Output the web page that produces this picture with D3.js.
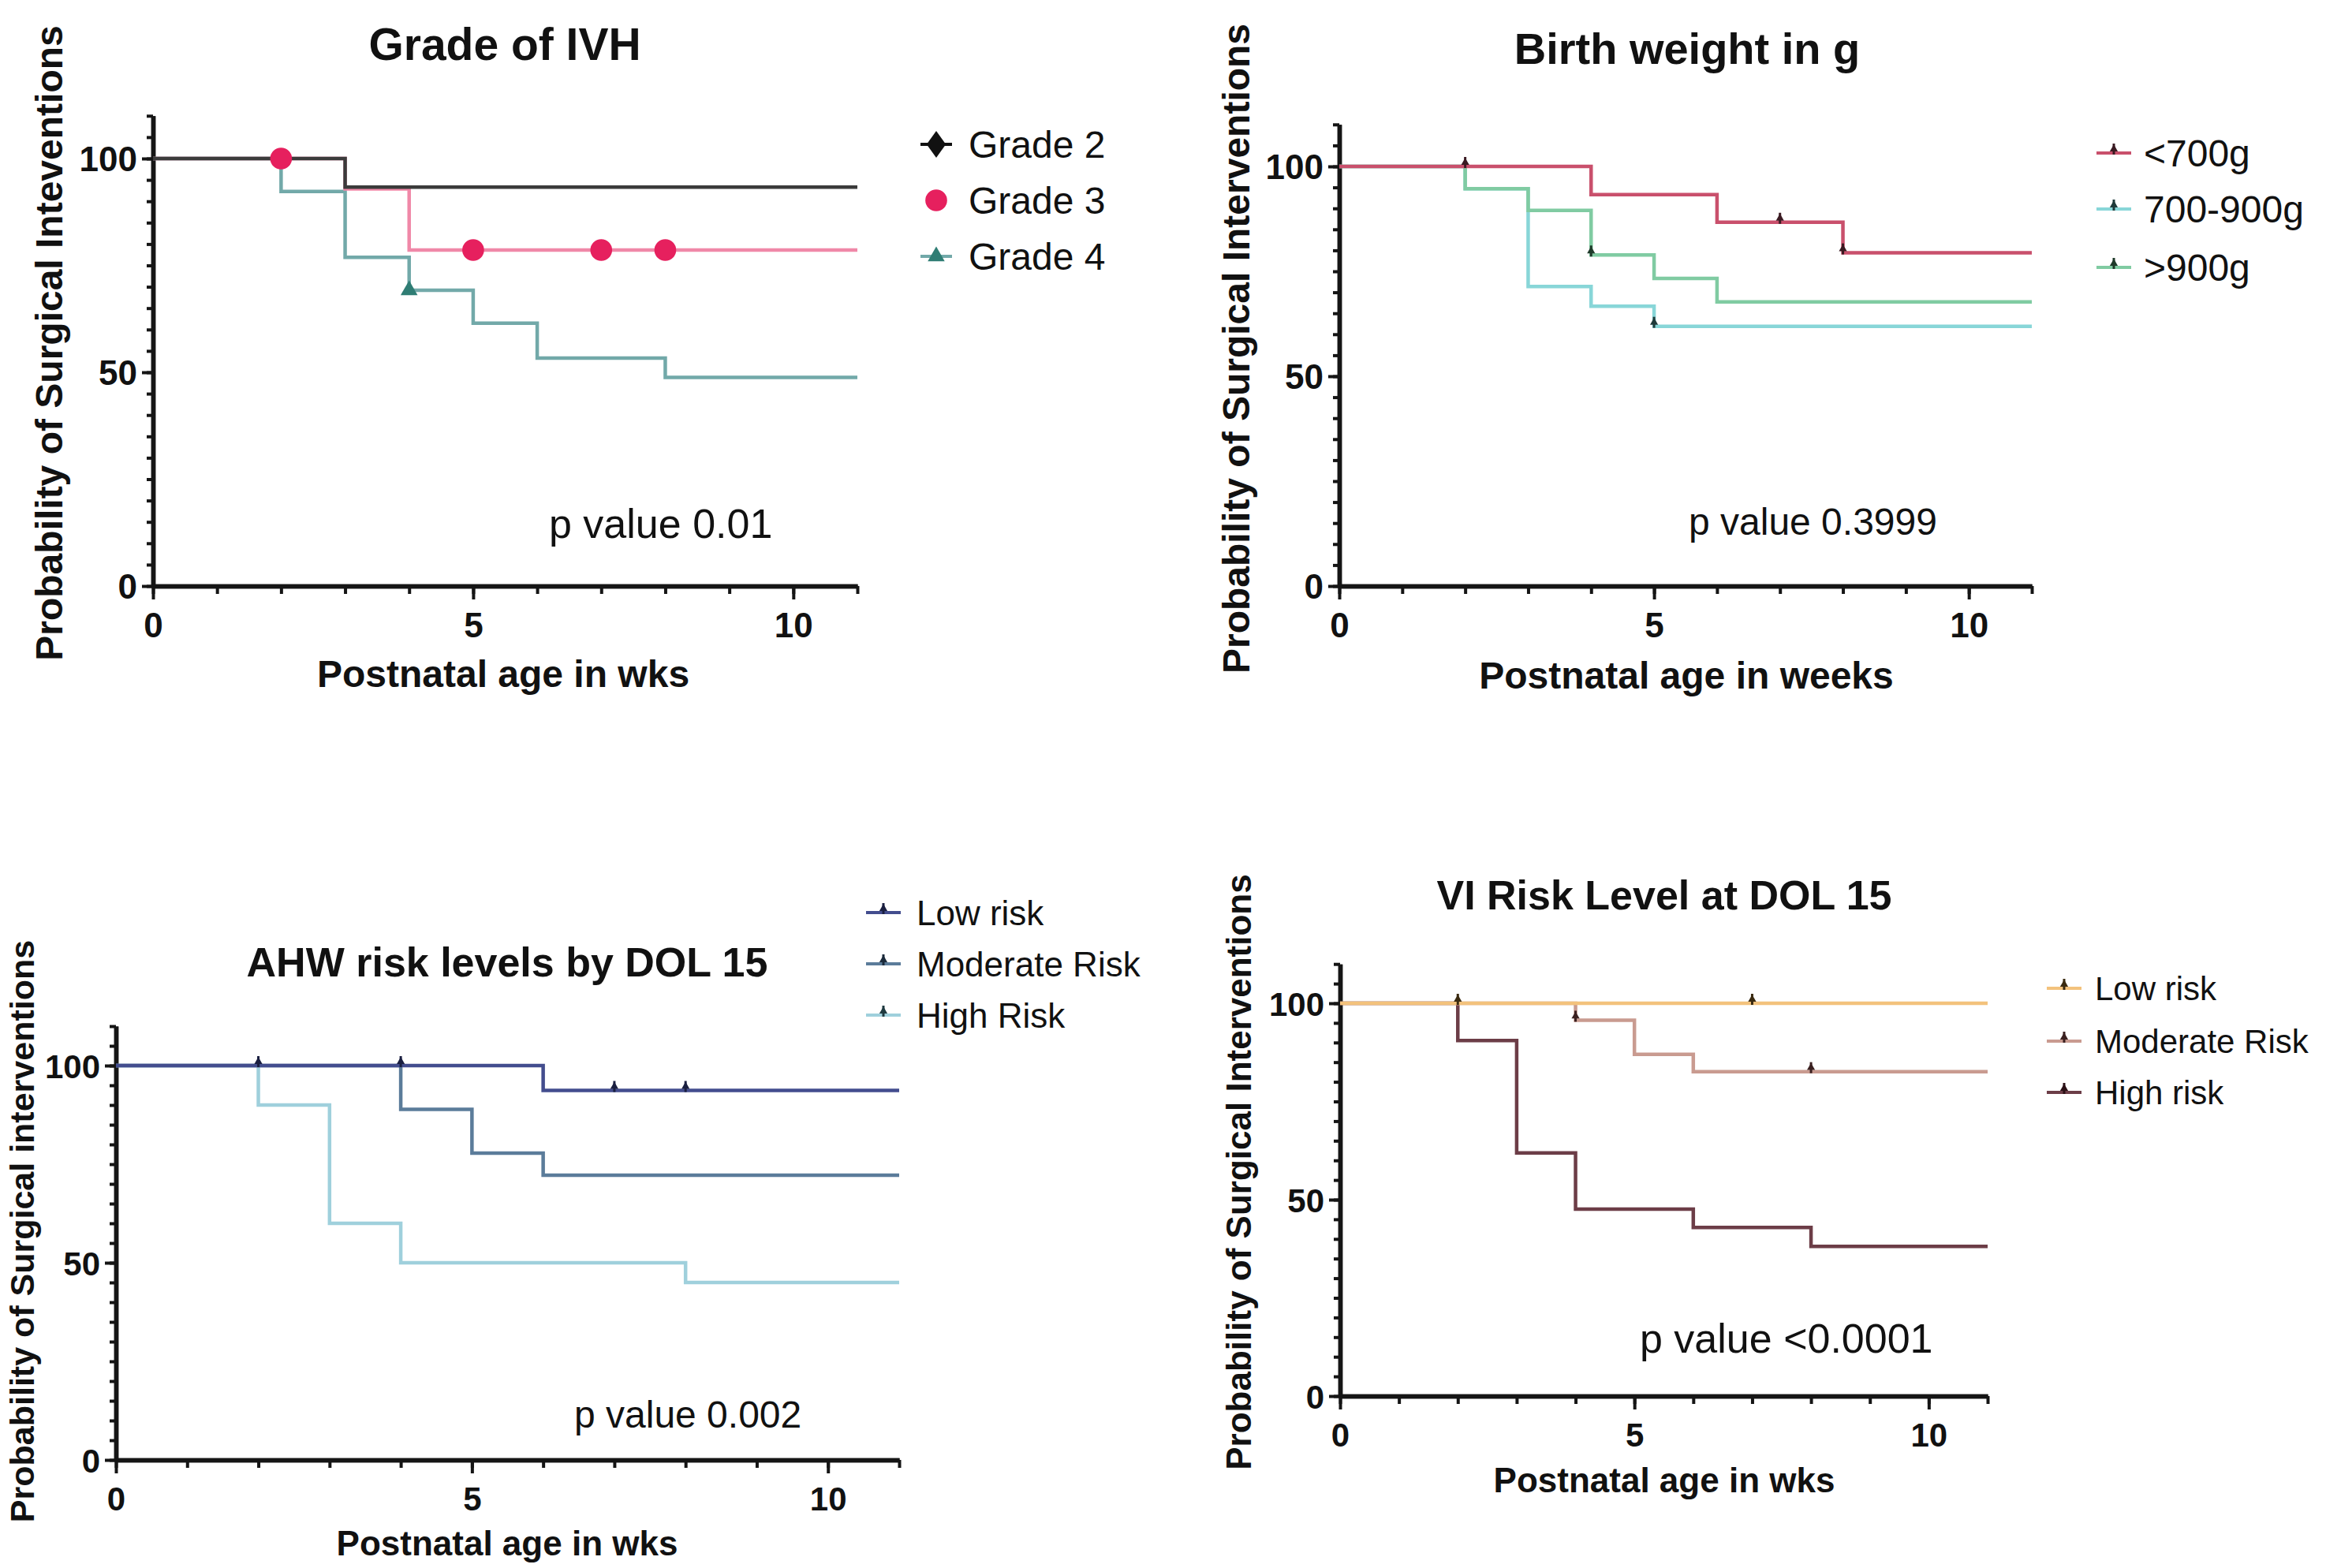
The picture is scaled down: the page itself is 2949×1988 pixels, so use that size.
<!DOCTYPE html>
<html><head><meta charset="utf-8">
<script src="https://cdn.jsdelivr.net/npm/d3@7"></script>
<style>
body{margin:0;background:#fff}
svg{display:block}
text{font-family:"Liberation Sans",Arial,Helvetica,sans-serif;fill:#111}
</style>
</head><body>
<svg id="chart" width="2949" height="1988"></svg>
<script>
// ---------------- DATA ----------------
const xTickValues = [0, 5, 10];
const yTickValues = [0, 50, 100];
const xMinorStep = 1, yMinorStep = 5;
const xMax = 11, yMax = 110;

// Panel 1: Grade of IVH
const ivhTitle = "Grade of IVH";
const ivhLabels = ["Grade 2", "Grade 3", "Grade 4"];
const grade2Times = [0, 3],                   grade2Surv = [100, 93.3],                        grade2Censor = [];
const grade3Times = [0, 3, 4],                grade3Surv = [100, 92.9, 78.6],                  grade3Censor = [2, 5, 7, 8];
const grade4Times = [0, 2, 3, 4, 5, 6, 8],    grade4Surv = [100, 92.3, 76.9, 69.2, 61.5, 53.3, 48.8], grade4Censor = [4];
const ivhP = "p value 0.01";
const ivhXTitle = "Postnatal age in wks";
const ivhYTitle = "Probability of Surgical Inteventions";

// Panel 2: Birth weight
const bwTitle = "Birth weight in g";
const bwLabels = ["<700g", "700-900g", ">900g"];
const bwLowTimes = [0, 4, 6, 8],         bwLowSurv = [100, 93.3, 86.7, 79.4],           bwLowCensor = [2, 7, 8];
const bwMidTimes = [0, 2, 3, 4, 5],      bwMidSurv = [100, 94.7, 71.4, 66.7, 61.9],     bwMidCensor = [5];
const bwHighTimes = [0, 2, 3, 4, 5, 6],  bwHighSurv = [100, 94.7, 89.5, 78.9, 73.3, 67.7], bwHighCensor = [4];
const bwP = "p value 0.3999";
const bwXTitle = "Postnatal age in weeks";
const bwYTitle = "Probability of Surgical Interventions";

// Panel 3: AHW risk levels
const ahwTitle = "AHW risk levels by DOL 15";
const ahwLabels = ["Low risk", "Moderate Risk", "High Risk"];
const ahwLowTimes = [0, 6],            ahwLowSurv = [100, 93.7],              ahwLowCensor = [2, 4, 7, 8];
const ahwModTimes = [0, 4, 5, 6],      ahwModSurv = [100, 88.9, 77.8, 72.2],  ahwModCensor = [];
const ahwHighTimes = [0, 2, 3, 4, 8],  ahwHighSurv = [100, 90, 60, 50, 45],   ahwHighCensor = [];
const ahwP = "p value 0.002";
const ahwXTitle = "Postnatal age in wks";
const ahwYTitle = "Probability of Surgical interventions";

// Panel 4: VI risk level
const viTitle = "VI Risk Level at DOL 15";
const viLabels = ["Low risk", "Moderate Risk", "High risk"];
const viLowTimes = [0],                    viLowSurv = [100],                               viLowCensor = [2, 7];
const viModTimes = [0, 4, 5, 6],           viModSurv = [100, 95.7, 87.0, 82.6],             viModCensor = [4, 8];
const viHighTimes = [0, 2, 3, 4, 6, 8],    viHighSurv = [100, 90.5, 61.9, 47.6, 42.9, 38.1], viHighCensor = [];
const viP = "p value <0.0001";
const viXTitle = "Postnatal age in wks";
const viYTitle = "Probability of Surgical Interventions";

// ---------------- LAYOUT ----------------
const panels = [
  {
    title: ivhTitle, pText: ivhP, xTitle: ivhXTitle, yTitle: ivhYTitle,
    left: 194, right: 1087, bottom: 743, v100: 201,
    titleX: 640, titleY: 76, titleSize: 57,
    xTitleX: 638, xTitleY: 871, xTitleSize: 48,
    yTitleX: 62, yTitleY: 435, yTitleSize: 48,
    pX: 696, pY: 682, pSize: 52,
    tickSize: 44,
    legX: 1187, legTextX: 1228, legY: [183, 254, 325], legSize: 48, legendKind: "ivh",
    series: [
      {label: ivhLabels[2], times: grade4Times, surv: grade4Surv, censor: grade4Censor, color: "#72a9a9", mark: "#2f7d74", sym: "tri"},
      {label: ivhLabels[1], times: grade3Times, surv: grade3Surv, censor: grade3Censor, color: "#f088a8", mark: "#e6205e", sym: "oct"},
      {label: ivhLabels[0], times: grade2Times, surv: grade2Surv, censor: grade2Censor, color: "#3b3b3b", mark: "#111", sym: "dia"}
    ],
    legendOrder: [2, 1, 0]
  },
  {
    title: bwTitle, pText: bwP, xTitle: bwXTitle, yTitle: bwYTitle,
    left: 1698, right: 2576, bottom: 743, v100: 211,
    titleX: 2139, titleY: 81, titleSize: 56,
    xTitleX: 2138, xTitleY: 873, xTitleSize: 48,
    yTitleX: 1567, yTitleY: 442, yTitleSize: 48,
    pX: 2141, pY: 678, pSize: 48,
    tickSize: 44,
    legX: 2680, legTextX: 2718, legY: [194, 265, 339], legSize: 48, legendKind: "tick",
    series: [
      {label: bwLabels[1], times: bwMidTimes, surv: bwMidSurv, censor: bwMidCensor, color: "#88d6d8", mark: "#1f3a3a"},
      {label: bwLabels[2], times: bwHighTimes, surv: bwHighSurv, censor: bwHighCensor, color: "#80cba2", mark: "#1f3a2a"},
      {label: bwLabels[0], times: bwLowTimes, surv: bwLowSurv, censor: bwLowCensor, color: "#c9506c", mark: "#3a1a22"}
    ],
    legendOrder: [2, 0, 1]
  },
  {
    title: ahwTitle, pText: ahwP, xTitle: ahwXTitle, yTitle: ahwYTitle,
    left: 147, right: 1140, bottom: 1851, v100: 1351,
    titleX: 643, titleY: 1238, titleSize: 52,
    xTitleX: 643, xTitleY: 1972, xTitleSize: 44,
    yTitleX: 28, yTitleY: 1561, yTitleSize: 43,
    pX: 728, pY: 1810, pSize: 48,
    tickSize: 42,
    legX: 1120, legTextX: 1162, legY: [1157, 1222, 1287], legSize: 44, legendKind: "tick",
    series: [
      {label: ahwLabels[2], times: ahwHighTimes, surv: ahwHighSurv, censor: ahwHighCensor, color: "#9fd0dc", mark: "#1f3a40"},
      {label: ahwLabels[1], times: ahwModTimes, surv: ahwModSurv, censor: ahwModCensor, color: "#5b7c9a", mark: "#1a2a3a"},
      {label: ahwLabels[0], times: ahwLowTimes, surv: ahwLowSurv, censor: ahwLowCensor, color: "#434d8e", mark: "#1a1f40"}
    ],
    legendOrder: [2, 1, 0]
  },
  {
    title: viTitle, pText: viP, xTitle: viXTitle, yTitle: viYTitle,
    left: 1699, right: 2520, bottom: 1770, v100: 1272,
    titleX: 2110, titleY: 1153, titleSize: 52,
    xTitleX: 2110, xTitleY: 1892, xTitleSize: 44,
    yTitleX: 1571, yTitleY: 1486, yTitleSize: 44,
    pX: 2079, pY: 1715, pSize: 52,
    tickSize: 42,
    legX: 2617, legTextX: 2656, legY: [1253, 1320, 1385], legSize: 42, legendKind: "tick",
    series: [
      {label: viLabels[2], times: viHighTimes, surv: viHighSurv, censor: viHighCensor, color: "#6c3d47", mark: "#2a1015"},
      {label: viLabels[1], times: viModTimes, surv: viModSurv, censor: viModCensor, color: "#c99b90", mark: "#3a2020"},
      {label: viLabels[0], times: viLowTimes, surv: viLowSurv, censor: viLowCensor, color: "#f3c27c", mark: "#3a2a10"}
    ],
    legendOrder: [2, 1, 0]
  }
];

// ---------------- DRAW ----------------
const svg = d3.select("#chart");
svg.append("rect").attr("width", 2949).attr("height", 1988).attr("fill", "#fff");

function survAt(times, surv, t) {
  let v = surv[0];
  for (let i = 0; i < times.length; i++) if (times[i] <= t) v = surv[i];
  return v;
}

function drawPanel(p) {
  const g = svg.append("g");
  const x = d3.scaleLinear().domain([0, xMax]).range([p.left, p.right]);
  const yPer = (p.bottom - p.v100) / 100;
  const y = d3.scaleLinear().domain([0, yMax]).range([p.bottom, p.bottom - yPer * yMax]);

  const xMinorAxis = d3.axisBottom(x).tickValues(d3.range(0, xMax + 0.001, xMinorStep)).tickSize(10).tickSizeOuter(0).tickFormat("");
  const yMinorAxis = d3.axisLeft(y).tickValues(d3.range(0, yMax + 0.001, yMinorStep)).tickSize(8).tickSizeOuter(0).tickFormat("");
  const xMajorAxis = d3.axisBottom(x).tickValues(xTickValues).tickSize(17).tickPadding(17).tickSizeOuter(0);
  const yMajorAxis = d3.axisLeft(y).tickValues(yTickValues).tickSize(14).tickPadding(6).tickSizeOuter(0);

  const axG = g.append("g");
  [[xMinorAxis, "x"], [xMajorAxis, "x"], [yMinorAxis, "y"], [yMajorAxis, "y"]].forEach(([ax, k]) => {
    const a = axG.append("g");
    if (k === "x") a.attr("transform", `translate(0,${p.bottom})`);
    else a.attr("transform", `translate(${p.left},0)`);
    a.call(ax);
    a.select(".domain").attr("stroke", "#151515").attr("stroke-width", 5.5);
    a.selectAll(".tick line").attr("stroke", "#151515").attr("stroke-width", 4);
    a.selectAll(".tick text")
      .attr("fill", "#111")
      .style("font-family", '"Liberation Sans",Arial,sans-serif')
      .style("font-weight", "bold")
      .style("font-size", p.tickSize + "px");
    if (k === "y") a.selectAll(".tick text").attr("dy", "0.36em");
  });

  const line = d3.line().x(d => x(d[0])).y(d => y(d[1])).curve(d3.curveStepAfter);
  p.series.forEach(s => {
    const pts = s.times.map((t, i) => [t, s.surv[i]]);
    pts.push([xMax, s.surv[s.surv.length - 1]]);
    g.append("path").datum(pts).attr("d", line)
      .attr("fill", "none").attr("stroke", s.color).attr("stroke-width", 4.5)
      .attr("stroke-linejoin", "miter");
  });

  p.series.forEach(s => {
    s.censor.forEach(t => {
      const cx = x(t), cy = y(survAt(s.times, s.surv, t));
      drawMarker(g, s, cx, cy, p.legendKind, false);
    });
  });

  g.append("text").attr("x", p.titleX).attr("y", p.titleY).attr("text-anchor", "middle")
    .style("font-weight", "bold").style("font-size", p.titleSize + "px").text(p.title);
  g.append("text").attr("x", p.xTitleX).attr("y", p.xTitleY).attr("text-anchor", "middle")
    .style("font-weight", "bold").style("font-size", p.xTitleSize + "px").text(p.xTitle);
  g.append("text").attr("transform", `translate(${p.yTitleX},${p.yTitleY}) rotate(-90)`)
    .attr("text-anchor", "middle").attr("dy", "0.35em")
    .style("font-weight", "bold").style("font-size", p.yTitleSize + "px").text(p.yTitle);
  g.append("text").attr("x", p.pX).attr("y", p.pY)
    .style("font-size", p.pSize + "px").text(p.pText);

  p.legendOrder.forEach((si, row) => {
    const s = p.series[si];
    const ly = p.legY[row];
    if (p.legendKind === "tick") {
      g.append("line").attr("x1", p.legX - 22).attr("x2", p.legX + 22).attr("y1", ly).attr("y2", ly)
        .attr("stroke", s.color).attr("stroke-width", 4);
    }
    drawMarker(g, s, p.legX, ly, p.legendKind, true);
    g.append("text").attr("x", p.legTextX).attr("y", ly).attr("dy", "0.36em")
      .style("font-size", p.legSize + "px").text(s.label);
  });
}

function drawMarker(g, s, cx, cy, kind, isLegend) {
  if (kind === "ivh") {
    if (s.sym === "oct") {
      g.append("path").attr("d", d3.symbol(d3.symbolCircle, 600)())
        .attr("transform", `translate(${cx},${cy})`).attr("fill", s.mark);
    } else if (s.sym === "tri") {
      if (isLegend) g.append("line").attr("x1", cx - 20).attr("x2", cx + 20).attr("y1", cy).attr("y2", cy)
        .attr("stroke", s.color).attr("stroke-width", 4);
      g.append("path").attr("d", d3.symbol(d3.symbolTriangle, 200)())
        .attr("transform", `translate(${cx},${cy})`).attr("fill", s.mark);
    } else {
      if (isLegend) g.append("line").attr("x1", cx - 20).attr("x2", cx + 20).attr("y1", cy).attr("y2", cy)
        .attr("stroke", s.mark).attr("stroke-width", 4);
      g.append("path").attr("d", d3.symbol(d3.symbolDiamond, 330)())
        .attr("transform", `translate(${cx},${cy}) scale(1.25,1)`).attr("fill", s.mark);
    }
  } else {
    g.append("line").attr("x1", cx).attr("x2", cx).attr("y1", cy - 12).attr("y2", cy + 2)
      .attr("stroke", s.mark).attr("stroke-width", 3);
    g.append("path").attr("d", d3.symbol(d3.symbolTriangle, 45)())
      .attr("transform", `translate(${cx},${cy - 5})`).attr("fill", s.mark);
  }
}

panels.forEach(drawPanel);
</script>
</body></html>
